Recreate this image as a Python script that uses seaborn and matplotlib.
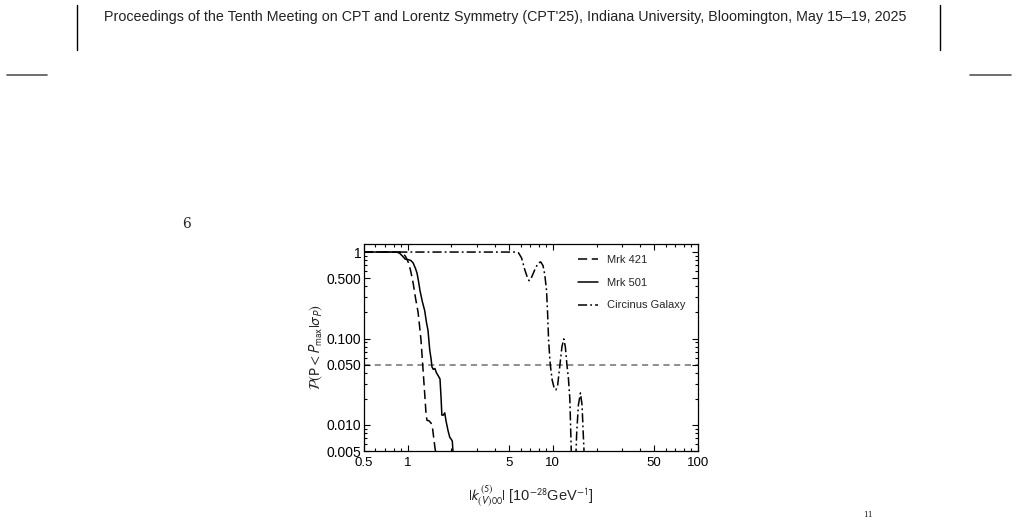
import matplotlib
matplotlib.use("Agg")
import matplotlib.pyplot as plt
import seaborn as sns
import numpy as np
import pandas as pd
from matplotlib.lines import Line2D
from matplotlib.ticker import LogLocator, NullFormatter

# Curves (x in 1e-28 GeV^-1, y = probability)
mrk421_x = [0.5, 0.88, 0.93, 0.97, 1.01, 1.05, 1.09, 1.13, 1.18, 1.21, 1.235, 1.27,
            1.31, 1.34, 1.36, 1.40, 1.45, 1.48, 1.51, 1.54, 1.57, 1.60]
mrk421_y = [1.0, 1.0, 0.97, 0.88, 0.76, 0.6, 0.44, 0.3, 0.2, 0.135, 0.096, 0.049,
            0.023, 0.013, 0.0113, 0.0112, 0.0105, 0.0095, 0.0072, 0.0055, 0.0045, 0.003]

mrk501_x = [0.5, 0.84, 0.88, 0.92, 0.96, 1.0, 1.05, 1.09, 1.13, 1.16, 1.19, 1.215,
            1.26, 1.31, 1.35, 1.38, 1.40, 1.42, 1.45, 1.47, 1.50, 1.54, 1.58, 1.64,
            1.67, 1.70, 1.72, 1.76, 1.80, 1.84, 1.90, 1.95, 2.0, 2.03, 2.05, 2.07]
mrk501_y = [1.0, 1.0, 0.97, 0.9, 0.83, 0.82, 0.8, 0.75, 0.65, 0.57, 0.45, 0.36,
            0.27, 0.21, 0.15, 0.125, 0.095, 0.073, 0.058, 0.047, 0.044, 0.045, 0.04, 0.036,
            0.034, 0.02, 0.013, 0.013, 0.0138, 0.011, 0.0085, 0.0072, 0.0068, 0.0065, 0.005, 0.004]

circ_x = [0.5, 5.5, 5.8, 6.1, 6.4, 6.7, 6.87, 7.1, 7.5, 7.9, 8.24, 8.55, 8.8, 9.05,
          9.2, 9.35, 9.6, 9.9, 10.2, 10.5, 10.8, 11.2, 11.55, 11.9, 12.2, 12.5, 12.8,
          13.1, 13.4, 13.7, 14.0, 14.3, 14.6, 15.0, 15.5, 15.9, 16.2, 16.5, 16.8]
circ_y = [1.0, 1.0, 0.98, 0.85, 0.63, 0.5, 0.466, 0.5, 0.62, 0.74, 0.77, 0.7, 0.55, 0.36,
          0.2, 0.096, 0.05, 0.033, 0.027, 0.0254, 0.029, 0.05, 0.08, 0.099, 0.08, 0.05, 0.035,
          0.02, 0.005, 0.002, 0.001, 0.003, 0.008, 0.017, 0.0235, 0.017, 0.008, 0.004, 0.001]

threshold = 0.05

x_ticks = [0.5, 1, 5, 10, 50, 100]
x_labels = ["0.5", "1", "5", "10", "50", "100"]
y_ticks = [0.005, 0.01, 0.05, 0.1, 0.5, 1]
y_labels = ["0.005", "0.010", "0.050", "0.100", "0.500", "1"]

header = ("Proceedings of the Tenth Meeting on CPT and Lorentz Symmetry (CPT'25), "
          "Indiana University, Bloomington, May 15\u201319, 2025")

sns.set_style("ticks")
plt.rcParams["font.family"] = ["Liberation Sans", "DejaVu Sans"]
plt.rcParams["mathtext.fontset"] = "stixsans"

fig = plt.figure(figsize=(10.17, 5.24), dpi=100)
ax = fig.add_axes([0.3579, 0.1393, 0.3284, 0.3951])

series = [
    ("Mrk 421", mrk421_x, mrk421_y, (0, (6, 3))),
    ("Mrk 501", mrk501_x, mrk501_y, "-"),
    ("Circinus Galaxy", circ_x, circ_y, (0, (6, 2, 1.2, 2))),
]
for name, xs, ys, ls in series:
    df = pd.DataFrame({"x": xs, "y": ys})
    sns.lineplot(data=df, x="x", y="y", ax=ax, color="black", linewidth=1.1,
                 linestyle=ls, sort=False, estimator=None, label=name)

ax.axhline(threshold, color="#707070", linewidth=1.1, linestyle=(0, (4, 3)), zorder=0)

ax.set_xscale("log")
ax.set_yscale("log")
ax.set_xlim(0.5, 100)
ax.set_ylim(0.005, 1.24)
ax.set_xticks(x_ticks)
ax.set_xticklabels(x_labels)
ax.set_yticks(y_ticks)
ax.set_yticklabels(y_labels)
ax.xaxis.set_minor_locator(LogLocator(base=10, subs=np.arange(2, 10)))
ax.yaxis.set_minor_locator(LogLocator(base=10, subs=np.arange(2, 10)))
ax.xaxis.set_minor_formatter(NullFormatter())
ax.yaxis.set_minor_formatter(NullFormatter())

ax.tick_params(which="both", direction="in", top=True, right=True, width=0.8, colors="black")
ax.tick_params(which="major", length=4)
ax.tick_params(which="minor", length=2)
ax.tick_params(axis="x", which="major", labelsize=9.5, pad=4)
ax.tick_params(axis="y", which="major", labelsize=10, pad=2)
for s in ax.spines.values():
    s.set_linewidth(0.9)
    s.set_color("black")

ax.set_xlabel(r"$|k^{(5)}_{(V)00}|$ [10$^{-28}$GeV$^{-1}$]", fontsize=10.5, labelpad=11)
ax.set_ylabel(r"$\mathcal{P}(\mathrm{P}<P_{\mathrm{max}}|\sigma_P)$", fontsize=10.5, labelpad=1)

leg = ax.legend(loc="upper right", frameon=False, fontsize=8, handlelength=1.8,
                labelspacing=1.15, borderaxespad=0.3, bbox_to_anchor=(0.985, 0.985))

# page furniture around the figure
fig.text(0.102, 0.967, header, fontsize=10.3, va="center", ha="left", color="#222222")
fig.add_artist(Line2D([0.0757, 0.0757], [0.905, 0.99], color="black", linewidth=1.0,
                      transform=fig.transFigure))
fig.add_artist(Line2D([0.924, 0.924], [0.905, 0.99], color="black", linewidth=1.0,
                      transform=fig.transFigure))
fig.add_artist(Line2D([0.007, 0.046], [0.856, 0.856], color="#555555", linewidth=1.2,
                      transform=fig.transFigure))
fig.add_artist(Line2D([0.954, 0.994], [0.856, 0.856], color="#555555", linewidth=1.2,
                      transform=fig.transFigure))
fig.text(0.183, 0.572, "6", fontsize=10, family="DejaVu Serif", va="center", ha="center")
fig.text(0.853, 0.017, "11", fontsize=5.5, family="DejaVu Serif", va="center", ha="center")

fig.savefig("out.png", dpi=100)
